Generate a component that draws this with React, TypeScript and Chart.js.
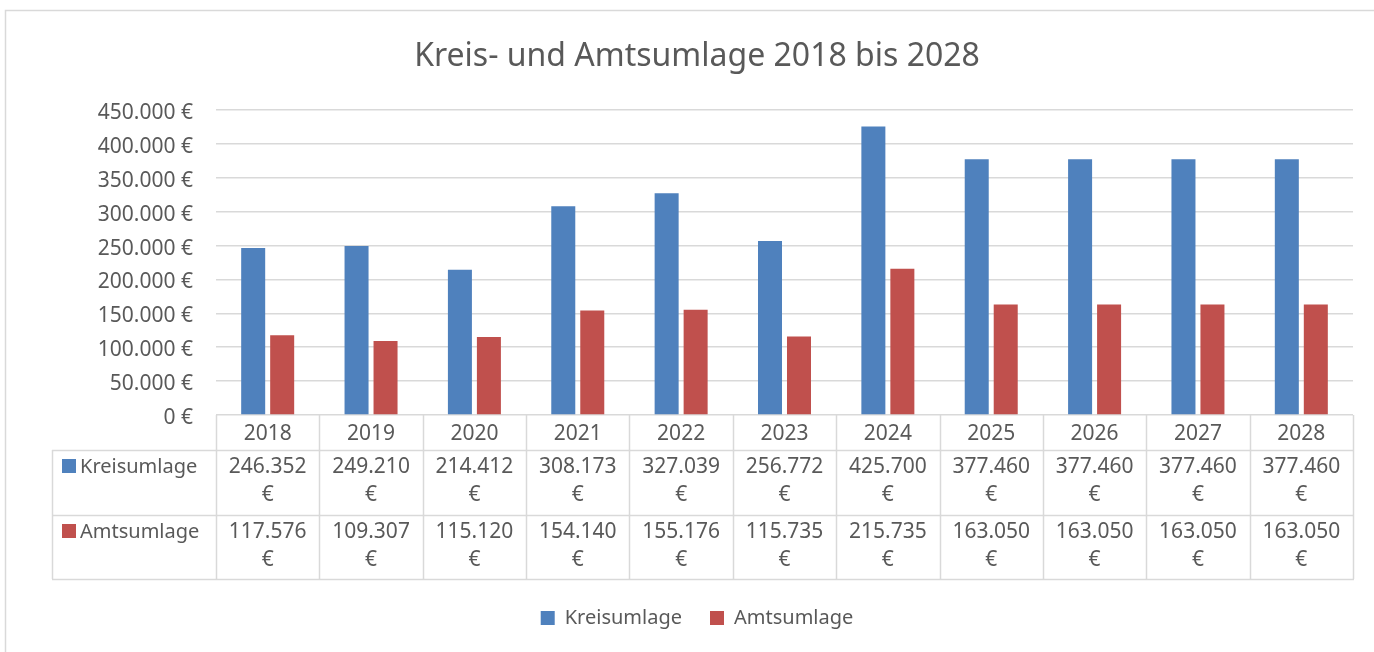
import React, { useEffect, useRef } from "react";
import { Chart, registerables } from "chart.js";

Chart.register(...registerables);

const years = ["2018", "2019", "2020", "2021", "2022", "2023", "2024", "2025", "2026", "2027", "2028"];
const kreisumlage = [246352, 249210, 214412, 308173, 327039, 256772, 425700, 377460, 377460, 377460, 377460];
const amtsumlage = [117576, 109307, 115120, 154140, 155176, 115735, 215735, 163050, 163050, 163050, 163050];
const seriesNames = ["Kreisumlage", "Amtsumlage"];
const yMax = 450000;
const yStep = 50000;
const titleText = "Kreis- und Amtsumlage 2018 bis 2028";

const BLUE = "#4F81BD";
const RED = "#C0504D";
const TEXT = "#595959";
const GRID = "#D9D9D9";
const FONT = "'Noto Sans', sans-serif";

const fmt = (v: number) => String(Math.round(v)).replace(/\B(?=(\d{3})+(?!\d))/g, ".");

const tablePlugin = {
  id: "dataTable",
  afterDraw(chart: any) {
    const { ctx, chartArea } = chart;
    const xs = chart.scales.x;
    const left = chartArea.left;
    const right = chartArea.right;
    const bottom = chartArea.bottom;
    const n = years.length;
    const cw = (right - left) / n;
    const row1 = bottom + 35;
    const row2 = bottom + 100;
    const tBottom = bottom + 164;
    const tLeft = 52;

    ctx.save();
    // outer chart border (left + top)
    ctx.strokeStyle = GRID;
    ctx.lineWidth = 1.5;
    ctx.beginPath();
    ctx.moveTo(5.5, 700);
    ctx.lineTo(5.5, 10.5);
    ctx.lineTo(1400, 10.5);
    ctx.stroke();

    ctx.lineWidth = 1.5;
    ctx.beginPath();
    for (let i = 0; i <= n; i++) {
      const xx = Math.round(left + i * cw) + 0.5;
      ctx.moveTo(xx, bottom);
      ctx.lineTo(xx, tBottom);
    }
    for (const yy of [row1, row2, tBottom]) {
      ctx.moveTo(tLeft, Math.round(yy) + 0.5);
      ctx.lineTo(right + 1, Math.round(yy) + 0.5);
    }
    ctx.moveTo(tLeft + 0.5, row1);
    ctx.lineTo(tLeft + 0.5, tBottom);
    ctx.stroke();

    ctx.fillStyle = TEXT;
    ctx.textBaseline = "middle";
    const rows = [
      { top: row1, data: kreisumlage, color: BLUE, name: seriesNames[0] },
      { top: row2, data: amtsumlage, color: RED, name: seriesNames[1] },
    ];
    for (const r of rows) {
      ctx.fillStyle = r.color;
      ctx.fillRect(62, r.top + 9, 14, 14);
      ctx.fillStyle = TEXT;
      ctx.textAlign = "left";
      ctx.font = `20px ${FONT}`;
      ctx.fillText(r.name, 80, r.top + 17);
      ctx.textAlign = "center";
      ctx.font = `21px ${FONT}`;
      r.data.forEach((v, i) => {
        const cx = xs.getPixelForValue(i);
        ctx.fillText(fmt(v), cx, r.top + 17);
        ctx.fillText("€", cx, r.top + 45);
      });
    }
    ctx.restore();
  },
};

export default function App() {
  const ref = useRef<HTMLCanvasElement>(null);
  useEffect(() => {
    if (!ref.current) return;
    const chart = new Chart(ref.current, {
      type: "bar",
      data: {
        labels: years,
        datasets: [
          { label: seriesNames[0], data: kreisumlage, backgroundColor: BLUE, categoryPercentage: 0.561, barPercentage: 0.828 },
          { label: seriesNames[1], data: amtsumlage, backgroundColor: RED, categoryPercentage: 0.561, barPercentage: 0.828 },
        ],
      },
      options: {
        responsive: false,
        animation: false,
        layout: { padding: { left: 41, right: 21, top: 38, bottom: 14 } },
        plugins: {
          title: {
            display: true,
            text: titleText,
            color: TEXT,
            font: { family: FONT, size: 32, weight: "normal" },
            padding: { top: 0, bottom: 33.6 },
          },
          legend: {
            position: "bottom",
            labels: { color: TEXT, font: { family: FONT, size: 20 }, boxWidth: 14, boxHeight: 14, padding: 28 },
          },
          tooltip: { enabled: false },
        },
        scales: {
          x: {
            grid: { display: false },
            border: { display: false },
            ticks: { color: TEXT, font: { family: FONT, size: 21 }, padding: -1.5 },
            afterFit: (s: any) => { s.height = 165; },
          },
          y: {
            min: 0,
            max: yMax,
            ticks: { stepSize: yStep, color: TEXT, font: { family: FONT, size: 21 }, padding: 23, labelOffset: 3, callback: (v: any) => fmt(Number(v)) + " €" },
            grid: { color: GRID, drawTicks: false, lineWidth: 1.5 },
            border: { display: false },
            afterFit: (s: any) => { s.width = 175; },
          },
        },
      },
      plugins: [tablePlugin],
    });
    return () => chart.destroy();
  }, []);
  return (
    <div style={{ position: "absolute", left: 0, top: 0, width: 1374, height: 652, background: "#fff" }}>
      <canvas ref={ref} width={1374} height={652} style={{ display: "block", width: 1374, height: 652 }} />
    </div>
  );
}
